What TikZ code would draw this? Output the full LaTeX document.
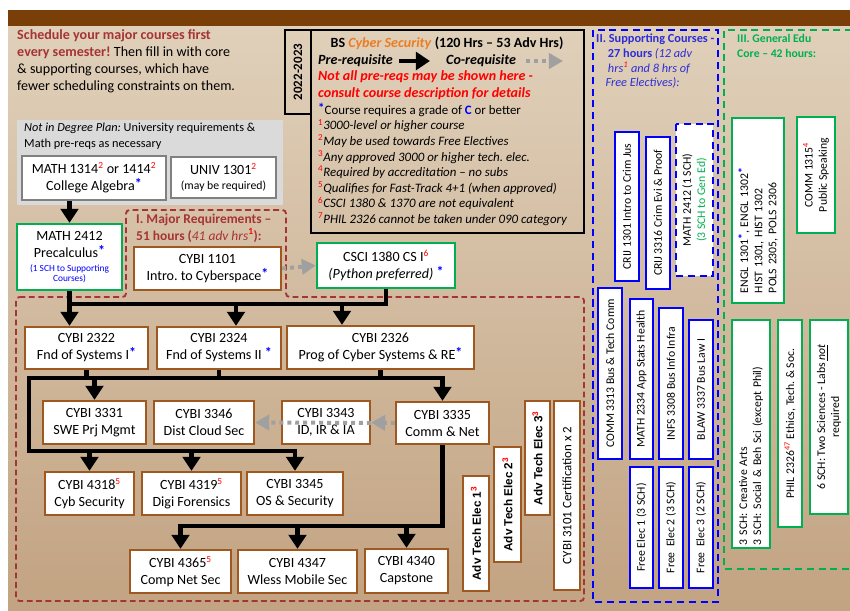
\documentclass[tikz,border=0pt]{standalone}
\usepackage{fontspec}
\setmainfont{Carlito}
\newfontfamily\arialfont{Liberation Sans}
\usepackage{xcolor}
\usepackage{tikz}
\usetikzlibrary{arrows.meta}

\definecolor{barbrown}{RGB}{122,62,8}
\definecolor{boxbrown}{RGB}{158,88,32}
\definecolor{majred}{RGB}{165,52,52}
\definecolor{gedgreen}{RGB}{0,176,80}
\definecolor{supblue}{RGB}{0,0,255}
\definecolor{suptext}{RGB}{45,45,215}
\definecolor{cyborange}{RGB}{235,125,35}
\definecolor{cogray}{RGB}{160,160,160}
\definecolor{notegray}{RGB}{218,218,218}
\definecolor{bgtop}{RGB}{224,208,186}
\definecolor{bgmid}{RGB}{212,190,163}
\definecolor{bgbot}{RGB}{194,163,130}

\newcommand{\supr}[1]{\textsuperscript{\textcolor{red}{#1}}}
\newcommand{\bstar}{\raisebox{0.3ex}{\textcolor{blue}{\bfseries *}}}

\tikzset{
  sz/.style 2 args={minimum width=#1*0.03cm, minimum height=#2*0.03cm},
  crs/.style={draw=boxbrown, line width=2pt, fill=white, align=center, inner sep=0pt},
  gcrs/.style={crs, draw=gedgreen},
  pcrs/.style={crs, draw=gray, line width=2.2pt},
  scrs/.style={crs, draw=supblue, rotate=90, font=\fontsize{10}{12}\selectfont},
  ecrs/.style={crs, draw=gedgreen, rotate=90, font=\fontsize{10}{12}\selectfont},
  tcrs/.style={crs, rotate=90, font=\arialfont\bfseries\fontsize{10}{12}\selectfont},
  bar/.style={line width=4pt},
  arr/.style={line width=4pt, -{Triangle[length=12pt,width=15pt]}},
  coarr/.style={line width=3.4pt, draw=cogray, dash pattern=on 3.4pt off 3.4pt,
    -{Triangle[length=12pt,width=13pt]}},
  lbl/.style={inner sep=0pt, align=left}
}

\begin{document}
\frenchspacing
\begin{tikzpicture}[x=0.03cm, y=-0.03cm, font=\fontsize{12}{14.5}\selectfont]
        \useasboundingbox (0,0) rectangle (850,610);
        \shade[top color=bgtop, middle color=bgmid, bottom color=bgbot] (8,26) rectangle (850,610);
        \fill[barbrown] (8,10) rectangle (850,26);

        \node[lbl, anchor=north west] (intro) at (17,29) {\textcolor{majred}{\textbf{Schedule your major courses first}}\\
            \textcolor{majred}{\textbf{every semester!}} Then fill in with core\\
            \& supporting courses, which have\\
            fewer scheduling constraints on them.};

        % legend
        \node[draw, line width=2pt, rotate=90, sz={84}{26}, font=\bfseries\fontsize{11}{13}\selectfont] (year) at (298,72) {2022-2023};
        \node[draw, line width=2pt, sz={273}{203}] (legend) at (447.5,131.5) {};
        \node[font=\bfseries\fontsize{12}{14.5}\selectfont] (lgtitle) at (447,43) {BS \textcolor{cyborange}{\textit{Cyber Security}} (120 Hrs -- 53 Adv Hrs)};
        \node[lbl, anchor=west, font=\bfseries\itshape\fontsize{12}{14.5}\selectfont] (lgpre) at (318,61) {Pre-requisite};
        \node[lbl, anchor=west, font=\bfseries\itshape\fontsize{12}{14.5}\selectfont] (lgco) at (446,61) {Co-requisite};
        \coordinate (lga) at (399,61);
        \coordinate (lgb) at (430,61);
        \coordinate (lgc) at (526,61);
        \coordinate (lgd) at (563,61);
        \draw[arr] (lga) -- (lgb);
        \draw[coarr] (lgc) -- (lgd);
        \node[lbl, anchor=north west, text=red, font=\bfseries\itshape\fontsize{12}{14.5}\selectfont] (lgwarn) at (318,70) {Not all pre-reqs may be shown here -\\consult course description for details};
        \node[lbl, anchor=north west, font=\fontsize{11}{13.3}\selectfont] (lgnotes) at (318,103) {\bstar Course requires a grade of \textcolor{blue}{\textbf{C}} or better\\
            \supr{1}\textit{3000-level or higher course}\\
            \supr{2}\textit{May be used towards Free Electives}\\
            \supr{3}\textit{Any approved 3000 or higher tech. elec.}\\
            \supr{4}\textit{Required by accreditation -- no subs}\\
            \supr{5}\textit{Qualifies for Fast-Track 4+1 (when approved)}\\
            \supr{6}\textit{CSCI 1380 \& 1370 are not equivalent}\\
            \supr{7}\textit{PHIL 2326 cannot be taken under 090 category}};

        % not in degree plan
        \node[fill=notegray, sz={266}{85}] (notin) at (150,162.5) {};
        \node[lbl, anchor=north west, font=\fontsize{10.5}{13}\selectfont] (notintxt) at (24,123) {\textit{Not in Degree Plan:} University requirements \&\\Math pre-reqs as necessary};
        \node[pcrs, sz={144}{44}] (m1314) at (94,178) {MATH 1314\supr{2} or 1414\supr{2}\\College Algebra\bstar};
        \node[pcrs, sz={105}{41}] (u1301) at (223.5,177.5) {UNIV 1301\supr{2}\\[-2pt]{\fontsize{10}{12}\selectfont(may be required)}};
        \node[gcrs, sz={105}{66}] (m2412) at (69.5,257) {MATH 2412\\Precalculus\bstar\\[-3pt]{\fontsize{8}{9}\selectfont\color{blue}(1 SCH to Supporting}\\[-6pt]{\fontsize{8}{9}\selectfont\color{blue}Courses)}};

        % major requirements
        \draw[majred, line width=1.6pt, dash pattern=on 5pt off 3pt, rounded corners=3pt]
            (16,297) -- (126,297) -- (126,210) -- (286,210) -- (286,297) -- (584,297) -- (584,601) -- (16,601) -- cycle;
        \node[lbl, anchor=north west, text=majred, font=\bfseries\fontsize{11.5}{14}\selectfont] (majlbl) at (136,214) {I. Major Requirements --\\51 hours (\textmd{\textit{41 adv hrs}}\supr{1}):};
        \node[crs, sz={147}{43}] (c1101) at (207.5,268.5) {CYBI 1101\\Intro. to Cyberspace\bstar};
        \node[gcrs, sz={138}{45}] (c1380) at (386,265.5) {CSCI 1380 CS I\supr{6}\\\textit{(Python preferred)} \bstar};

        \node[crs, sz={123}{42}] (c2322) at (86.5,348) {CYBI 2322\\Fnd of Systems I\bstar};
        \node[crs, sz={124}{42}] (c2324) at (219,348) {CYBI 2324\\Fnd of Systems II \bstar};
        \node[crs, sz={187}{43}] (c2326) at (380.5,347.5) {CYBI 2326\\Prog of Cyber Systems \& RE\bstar};

        \node[crs, sz={103}{43}] (c3331) at (94.5,422.5) {CYBI 3331\\SWE Prj Mgmt};
        \node[crs, sz={100}{43}] (c3346) at (204,422.5) {CYBI 3346\\Dist Cloud Sec};
        \node[crs, sz={88}{43}] (c3343) at (326,422.5) {CYBI 3343\\ID, IR \& IA};
        \node[crs, sz={93}{42}] (c3335) at (442.5,423) {CYBI 3335\\Comm \& Net};

        \node[crs, sz={89}{43}] (c4318) at (89.5,493.5) {CYBI 4318\supr{5}\\Cyb Security};
        \node[crs, sz={99}{43}] (c4319) at (191.5,493.5) {CYBI 4319\supr{5}\\Digi Forensics};
        \node[crs, sz={96}{43}] (c3345) at (295,493.5) {CYBI 3345\\OS \& Security};

        \node[crs, sz={101}{43}] (c4365) at (180.5,571.5) {CYBI 4365\supr{5}\\Comp Net Sec};
        \node[crs, sz={119}{43}] (c4347) at (297.5,571.5) {CYBI 4347\\Wless Mobile Sec};
        \node[crs, sz={83}{44}] (c4340) at (406.5,571) {CYBI 4340\\Capstone};

        \node[tcrs, sz={115}{26}] (ate1) at (476,533.5) {Adv Tech Elec 1\supr{3}};
        \node[tcrs, sz={115}{27}] (ate2) at (507.5,504.5) {Adv Tech Elec 2\supr{3}};
        \node[tcrs, sz={114}{25}] (ate3) at (537.5,458) {Adv Tech Elec 3\supr{3}};
        \node[crs, rotate=90, sz={189}{26}, font=\fontsize{11}{13}\selectfont] (c3101) at (567,495.5) {CYBI 3101 Certification x 2};

        \coordinate (b1l) at (69.5,304);
        \coordinate (b1a) at (236,304);
        \coordinate (b1b) at (342,304);
        \coordinate (b2l) at (29,378);
        \coordinate (b2r) at (442.5,378);
        \coordinate (b3l) at (29,451);
        \coordinate (b3r) at (295,451);
        \coordinate (b4l) at (180.5,526);

        \draw[arr] (m1314.south -| b1l) -- (m2412.north -| b1l);
        \draw[bar] (m2412.south -| b1l) -- (b1l);
        \draw[arr] (c1380.south) |- (b1l) -- (c2322.north -| b1l);
        \draw[arr] (b1a) -- (c2324.north -| b1a);
        \draw[arr] (b1b) -- (c2326.north -| b1b);

        \draw[bar] (c2322.south) -- (c2322.south |- b2l);
        \draw[bar] (c2324.south) -- (c2324.south |- b2l);
        \draw[bar] (c2326.south) -- (c2326.south |- b2l);
        \draw[arr] (b3l) -- (b2l) -- (b2r) -- (c3335.north);
        \draw[arr] (b2l) -- (b3l) -- (b3r) -- (c3345.north);
        \draw[arr] (c3331.north |- b2l) -- (c3331.north);
        \draw[arr] (c4318.north |- b3l) -- (c4318.north);
        \draw[arr] (c4319.north |- b3l) -- (c4319.north);
        \draw[arr] (c3335.south) |- (b4l) -- (c4365.north);
        \draw[arr] (c4347.north |- b4l) -- (c4347.north);
        \draw[arr] (c4340.north |- b4l) -- (c4340.north);

        \draw[coarr] (c1101.east) -- (c1380.west);
        \draw[coarr] (c3335.west) -- (c3346.east);
        \draw[coarr] (c3335.west) -- (c3343.east);

        % supporting courses
        \draw[supblue, line width=2pt, dash pattern=on 6pt off 4pt] (593,30) rectangle (718,602);
        \node[lbl, anchor=north west, text=suptext, font=\fontsize{10.5}{12.5}\selectfont] (suplbl) at (596,34) {\textbf{II. Supporting Courses -}\\
            \hspace*{10pt}\textbf{27 hours} \textit{(12 adv}\\
            \hspace*{10pt}\textit{hrs\supr{1} and 8 hrs of}\\
            \hspace*{8pt}\textit{Free Electives):}};
        \node[scrs, sz={149}{24}] (j1301) at (627,206.5) {CRIJ 1301 Intro to Crim Jus};
        \node[scrs, sz={152}{24}] (j3316) at (658,213) {CRIJ 3316 Crim Evi \& Proof};
        \node[scrs, dash pattern=on 6pt off 4pt, sz={152}{37}] (m2412s) at (694.5,200) {MATH 2412 (1 SCH)\\\textcolor{gedgreen}{(3 SCH to Gen Ed)}};
        \node[scrs, sz={171}{24}] (cm3313) at (610,373.5) {COMM 3313 Bus \& Tech Comm};
        \node[scrs, sz={160}{23}] (m2334) at (641.5,379) {MATH 2334 App Stats Health};
        \node[scrs, sz={151}{24}] (i3308) at (671,383.5) {INFS 3308 Bus Info Infra};
        \node[scrs, sz={139}{24}] (bl3337) at (701,389.5) {BLAW 3337 Bus Law I};
        \node[scrs, sz={121}{23}] (fe1) at (641.5,527.5) {Free Elec 1 (3 SCH)};
        \node[scrs, sz={121}{24}] (fe2) at (671,527.5) {Free\ \ Elec 2 (3 SCH)};
        \node[scrs, sz={121}{24}] (fe3) at (701,527.5) {Free\ \ Elec 3 (2 SCH)};

        % general education
        \draw[gedgreen, line width=2pt, dash pattern=on 6pt off 4pt] (852,30) -- (724,30) -- (724,569) -- (852,569);
        \node[lbl, anchor=north west, text=gedgreen, font=\bfseries\fontsize{10}{13}\selectfont] (genlbl) at (737,34) {III. General Edu\\Core -- 42 hours:};
        \node[ecrs, sz={185}{52}, text width=165*0.03cm, align=left] (engl) at (758,210.5) {ENGL 1301\bstar, ENGL 1302\bstar\\HIST 1301, HIST 1302\\POLS 2305, POLS 2306};
        \node[ecrs, sz={116}{38}] (cm1315) at (816,175) {COMM 1315\supr{4}\\Public Speaking};
        \node[ecrs, sz={228}{38}, text width=222*0.03cm, align=left] (sch3) at (751,434) {3 SCH: Creative Arts\\3 SCH: Social \& Beh Sci (except Phil)};
        \node[ecrs, sz={207}{24}] (ph2326) at (790,423.5) {PHIL 2326\supr{47} Ethics, Tech. \& Soc.};
        \node[ecrs, sz={194}{38}] (sch6) at (829,417) {6 SCH: Two Sciences - Labs \underline{\textit{not}}\\required};
    \end{tikzpicture}
\end{document}
